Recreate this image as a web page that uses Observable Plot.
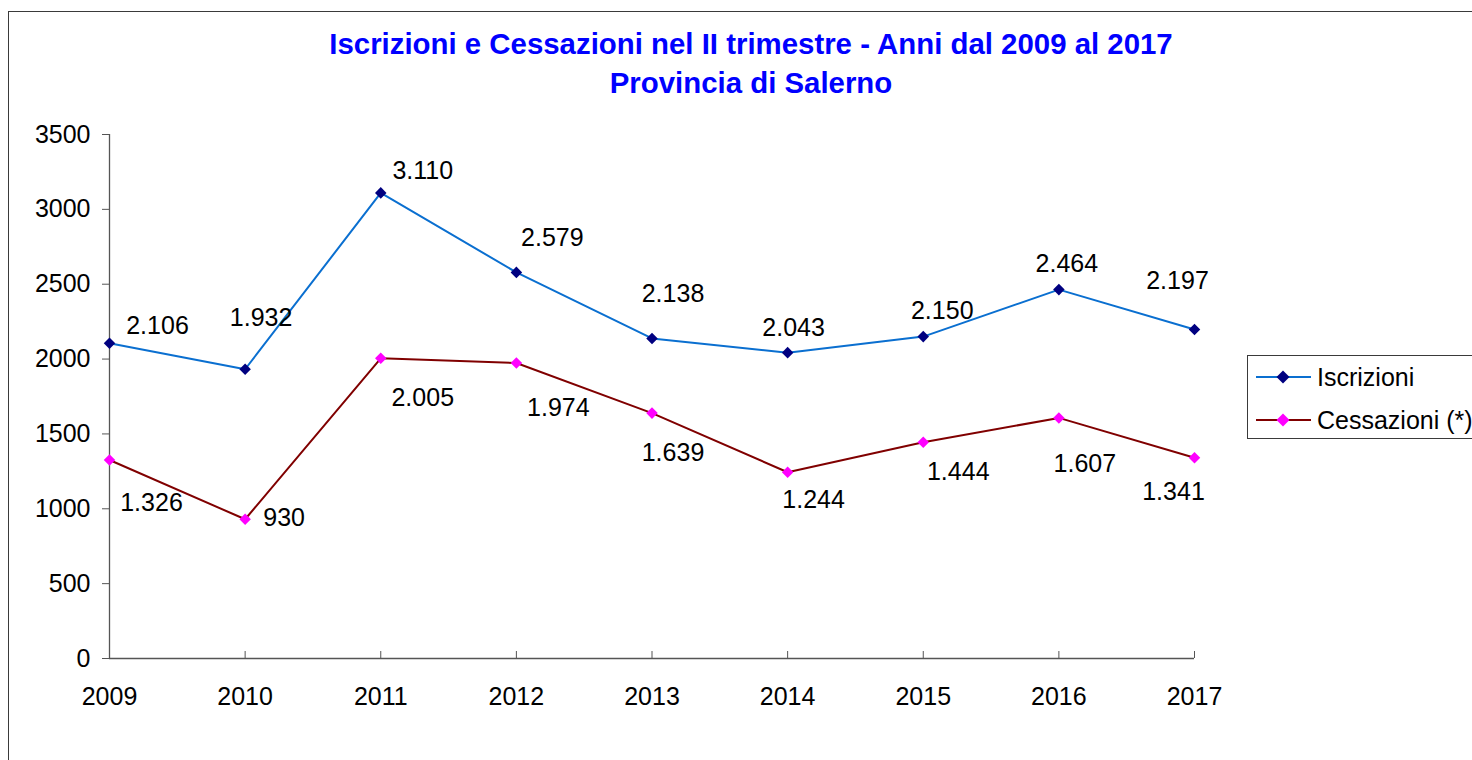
<!DOCTYPE html>
<html>
<head>
<meta charset="utf-8">
<script src="https://cdn.jsdelivr.net/npm/d3@7"></script>
<script src="https://cdn.jsdelivr.net/npm/@observablehq/plot@0.6"></script>
<style>
html, body { margin: 0; padding: 0; background: #fff; width: 1472px; height: 760px; overflow: hidden; font-family: "Liberation Sans", Arial, sans-serif; }
#frame { position: absolute; left: 8px; top: 11px; width: 1520px; height: 800px; border: 1px solid #3a3a3a; box-sizing: border-box; }
#title { position: relative; height: 110px; }
#title div { position: absolute; left: 0; width: 1502px; text-align: center; color: #0000ff; font-weight: bold; font-size: 29.4px; line-height: 39px; }
#chart { position: relative; height: 650px; }
#legend { position: absolute; left: 1247px; top: 355px; width: 260px; height: 84px; border: 1px solid #3a3a3a; box-sizing: border-box; background: #fff; }
.row { position: absolute; left: 0; height: 40px; width: 260px; }
.row svg { position: absolute; left: 7px; top: 0; }
.row span { position: absolute; left: 69px; top: 0; line-height: 40px; font-size: 25px; color: #000; white-space: nowrap; }
</style>
</head>
<body>
<div id="frame"></div>
<div id="title">
  <div style="top:24px">Iscrizioni e Cessazioni nel II trimestre - Anni dal 2009 al 2017</div>
  <div style="top:63px">Provincia di Salerno</div>
</div>
<div id="chart"></div>
<div id="legend"></div>
<script>
// ---- data ----
const years = [2009, 2010, 2011, 2012, 2013, 2014, 2015, 2016, 2017];
const iscrizioni = [2106, 1932, 3110, 2579, 2138, 2043, 2150, 2464, 2197];
const cessazioni = [1326, 930, 2005, 1974, 1639, 1244, 1444, 1607, 1341];
const yTicks = [0, 500, 1000, 1500, 2000, 2500, 3000, 3500];
const seriesNames = ["Iscrizioni", "Cessazioni (*)"];

// label offsets in px (label placement, as in the original)
const iscrLabelDx = [48, 16, 42, 36, 21, 6, 19, 8, -17];
const iscrLabelDy = [-17, -51, -22, -34, -44, -25, -26, -26, -49];
const cessLabelDx = [42, 39, 42, 42, 21, 26, 35, 26, -21];
const cessLabelDy = [43, -1, 40, 45, 40, 28, 30, 46, 34];

// ---- styles ----
const colors = {
  iscrLine: "#0a6fd0", iscrMark: "#000080",
  cessLine: "#800000", cessMark: "#ff00ff"
};
const W = 1472, H = 650, mL = 109, mR = 278, mT = 24, mB = 102;
const frameH = H - mT - mB;
const fmt = d3.formatLocale({decimal: ",", thousands: ".", grouping: [3], currency: ["", "€"]}).format(",d");

const rows = years.map((year, i) => ({year, iscrizioni: iscrizioni[i], cessazioni: cessazioni[i], i}));

const labelMarks = [];
rows.forEach((r) => {
  labelMarks.push(Plot.text([r], {x: "year", y: "iscrizioni", text: d => fmt(d.iscrizioni), dx: iscrLabelDx[r.i], dy: iscrLabelDy[r.i], fill: "#000", fontSize: 25}));
  labelMarks.push(Plot.text([r], {x: "year", y: "cessazioni", text: d => fmt(d.cessazioni), dx: cessLabelDx[r.i], dy: cessLabelDy[r.i], fill: "#000", fontSize: 25}));
});

const chart = Plot.plot({
  width: W, height: H,
  marginLeft: mL, marginRight: mR, marginTop: mT, marginBottom: mB,
  style: {fontFamily: "'Liberation Sans', Arial, sans-serif", fontSize: "25px", color: "#000", background: "transparent", overflow: "visible"},
  x: {type: "point", domain: years, padding: 0, round: false, label: null},
  y: {domain: [0, 3500], label: null},
  marks: [
    Plot.axisY({ticks: yTicks, tickSize: 7, tickPadding: 12, fontSize: 25, stroke: "#555", label: null, tickFormat: d => String(d)}),
    Plot.axisX({tickSize: 0, tickPadding: 29, fontSize: 25, label: null, tickFormat: d => String(d)}),
    Plot.tickX(years, {x: d => d, insetTop: frameH - 7, stroke: "#555"}),
    Plot.ruleX([years[0]], {stroke: "#555", strokeWidth: 1.3}),
    Plot.ruleY([0], {stroke: "#555", strokeWidth: 1.3}),
    Plot.line(rows, {x: "year", y: "cessazioni", stroke: colors.cessLine, strokeWidth: 2}),
    Plot.line(rows, {x: "year", y: "iscrizioni", stroke: colors.iscrLine, strokeWidth: 2}),
    Plot.dot(rows, {x: "year", y: "cessazioni", symbol: "diamond2", r: 5.2, fill: colors.cessMark, stroke: "none"}),
    Plot.dot(rows, {x: "year", y: "iscrizioni", symbol: "diamond2", r: 5.2, fill: colors.iscrMark, stroke: "none"}),
    ...labelMarks
  ]
});
document.getElementById("chart").appendChild(chart);

// ---- legend ----
const legend = document.getElementById("legend");
const legendItems = [
  {name: seriesNames[0], line: colors.iscrLine, mark: colors.iscrMark, top: 1},
  {name: seriesNames[1], line: colors.cessLine, mark: colors.cessMark, top: 44}
];
legendItems.forEach(it => {
  const row = document.createElement("div");
  row.className = "row";
  row.style.top = it.top + "px";
  row.innerHTML = `<svg width="58" height="40"><line x1="1" x2="56" y1="20" y2="20" stroke="${it.line}" stroke-width="2"/><path d="M28,13.5L34.5,20L28,26.5L21.5,20Z" fill="${it.mark}"/></svg><span>${it.name}</span>`;
  legend.appendChild(row);
});
</script>
</body>
</html>
